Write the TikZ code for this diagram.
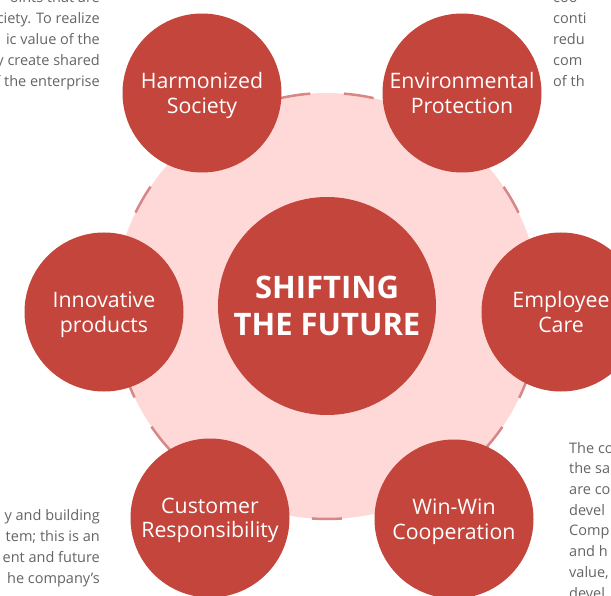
\documentclass[tikz,border=0pt]{standalone}
\usepackage{fontspec}
\setmainfont{Open Sans}
\usetikzlibrary{positioning}

\definecolor{ringred}{RGB}{195,69,60}
\definecolor{ringpink}{RGB}{254,217,216}
\definecolor{ringdash}{RGB}{216,134,134}
\definecolor{bodygray}{RGB}{100,100,100}

\begin{document}
\begin{tikzpicture}[x=1pt,y=-1pt,
        sat/.style={circle,fill=ringred,minimum size=159pt,inner sep=0pt,text=white,align=center,text depth=0pt,font=\fontsize{21.3}{24.5}\selectfont},
        core/.style={circle,fill=ringred,minimum size=218pt,inner sep=0pt,text=white,align=center,text depth=0pt,font=\bfseries\fontsize{31}{37}\selectfont},
        para/.style={text=bodygray,inner sep=0pt,font=\fontsize{14.5}{21}\selectfont}]
            \useasboundingbox (0,0) rectangle (611,596);
            \clip (0,0) rectangle (611,596);

            % pink ring behind everything
            \draw [fill=ringpink,draw=ringdash,line width=2.5pt,dash pattern=on 30pt off 33.73pt,dash phase=62.6pt] (327,306) circle (213);

            \node [core] (future) at (327,306) {SHIFTING\\THE FUTURE};
            \node [sat] (society) at (202,93) {Harmonized\\Society};
            \node [sat] (environment) at (462,93) {Environmental\\Protection};
            \node [sat] (employee) at (561,312) {Employee\\Care};
            \node [sat] (winwin) at (454,519) {Win-Win\\Cooperation};
            \node [sat] (customer) at (210,518) {Customer\\Responsibility};
            \node [sat] (innovative) at (104,312) {Innovative\\products};

            % cut-off body text at the edges (base = last line)
            \node [para,align=right,anchor=base east] (textnw) at (100,87) {oints that are\\ciety. To realize\\ic value of the\\y create shared\\f the enterprise};
            \node [para,align=left,anchor=base west] (textne) at (553,87) {coo\\conti\\redu\\com\\of th};
            \node [para,align=right,anchor=base east] (textsw) at (100,583) {y and building\\tem; this is an\\ent and future\\he company's};
            \node [para,align=left,anchor=base west,font=\fontsize{14.5}{20.7}\selectfont] (textse) at (569,598) {The co\\the sa\\are co\\devel\\Comp\\and h\\value,\\devel};
        \end{tikzpicture}
\end{document}
